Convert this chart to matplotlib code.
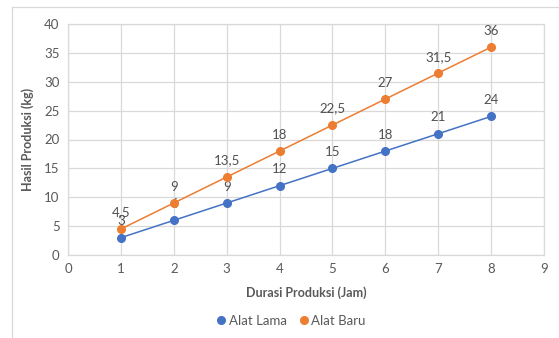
import matplotlib
matplotlib.use("Agg")
import matplotlib.pyplot as plt
from matplotlib.lines import Line2D

plt.rcParams['font.family'] = ['Lato', 'DejaVu Sans']

# durasi (jam) vs hasil (kg)
durasi = [1, 2, 3, 4, 5, 6, 7, 8]
alat_lama = [3, 6, 9, 12, 15, 18, 21, 24]
alat_baru = [4.5, 9, 13.5, 18, 22.5, 27, 31.5, 36]
x_ticks = list(range(0, 10))
y_ticks = list(range(0, 45, 5))

BLUE = '#4472C4'
ORANGE = '#ED7D31'
GRID = '#D9D9D9'
TXT = '#595959'


def fmt(v):
    # koma sebagai pemisah desimal
    s = ('%g' % v)
    return s.replace('.', ',')


fig = plt.figure(figsize=(5.59, 3.38), dpi=100)
ax = fig.add_axes([68 / 559, 1 - 255 / 338, 476 / 559, 231 / 338])

for ys, col, lbl in [(alat_lama, BLUE, 'Alat Lama'), (alat_baru, ORANGE, 'Alat Baru')]:
    ax.plot(durasi, ys, color=col, lw=1.1, marker='o', ms=5.5, label=lbl, zorder=3)
    for x, y in zip(durasi, ys):
        ax.annotate(fmt(y), (x, y), xytext=(0, 7.5), textcoords='offset points',
                    ha='center', va='bottom', fontsize=9.5, color='#505050')

ax.set_xlim(0, 9)
ax.set_ylim(0, 40)
ax.set_xticks(x_ticks)
ax.set_yticks(y_ticks)
ax.grid(True, color=GRID, lw=0.9)
ax.set_axisbelow(True)
for s in ax.spines.values():
    s.set_color(GRID)
    s.set_linewidth(0.9)
ax.tick_params(length=0, labelsize=9.5, colors=TXT, pad=6)

ax.set_xlabel('Durasi Produksi (Jam)', fontsize=9, fontweight='bold', color=TXT, labelpad=8)
ax.set_ylabel('Hasil Produksi (kg)', fontsize=9, fontweight='bold', color=TXT, labelpad=7)

handles = [Line2D([], [], ls='none', marker='o', ms=5.5, color=BLUE),
           Line2D([], [], ls='none', marker='o', ms=5.5, color=ORANGE)]
fig.legend(handles, ['Alat Lama', 'Alat Baru'], loc='center',
           bbox_to_anchor=(290 / 559, 1 - 321 / 338), ncol=2, frameon=False,
           fontsize=9.5, labelcolor=TXT, handletextpad=0.05, columnspacing=0.8,
           handlelength=1.0)

# bingkai luar grafik
fig.add_artist(Line2D([12 / 559, 12 / 559], [0, 1 - 7 / 338], color=GRID, lw=0.9))
fig.add_artist(Line2D([12 / 559, 1], [1 - 7 / 338, 1 - 7 / 338], color=GRID, lw=0.9))

fig.savefig('out.png', dpi=100)
